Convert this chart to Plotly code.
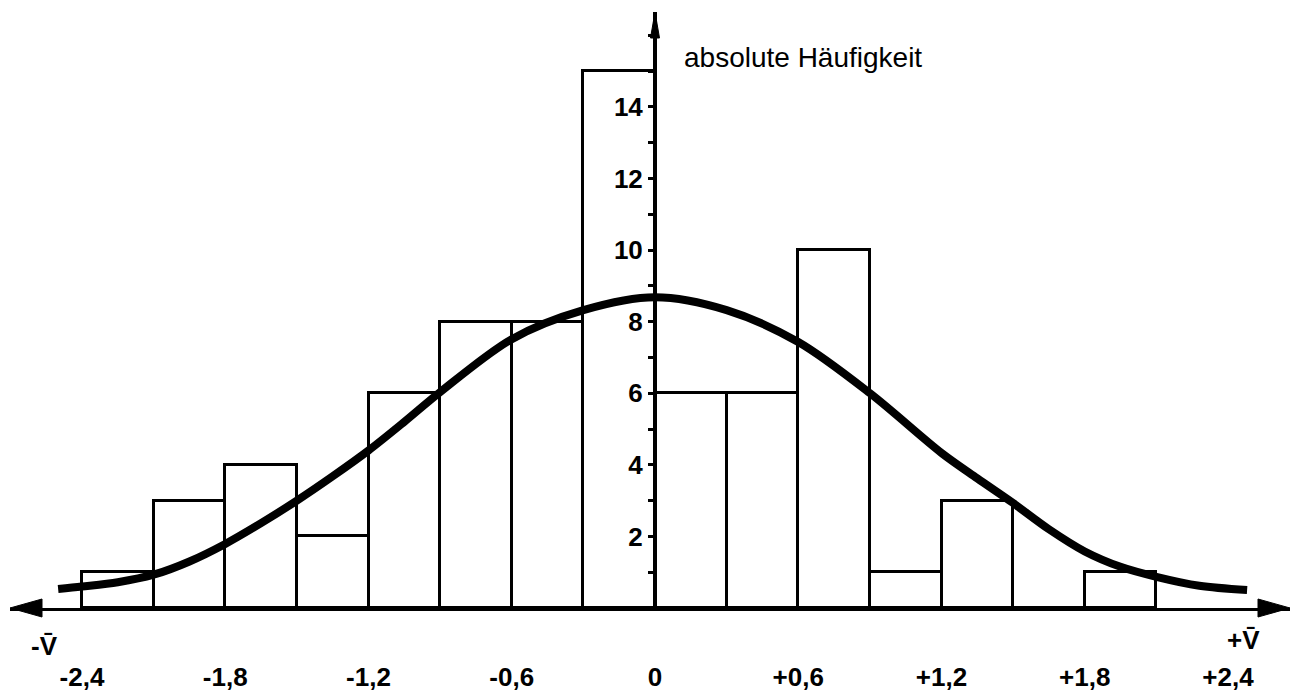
import plotly.graph_objects as go

# Histogram classes (bin width 0.3, from -2.4 to +2.1)
bin_centers = [-2.25, -1.95, -1.65, -1.35, -1.05, -0.75, -0.45, -0.15,
               0.15, 0.45, 0.75, 1.05, 1.35, 1.65, 1.95]
counts = [1, 3, 4, 2, 6, 8, 8, 15, 6, 6, 10, 1, 3, 0, 1]

# Fitted normal curve
curve_x = [-2.50, -2.40, -2.25, -2.10, -1.95, -1.80, -1.65, -1.50, -1.35, -1.20,
           -1.05, -0.90, -0.60, -0.30, 0.00, 0.30, 0.60, 0.90, 1.20, 1.35,
           1.50, 1.65, 1.80, 1.95, 2.10, 2.28, 2.48]
curve_y = [0.53, 0.60, 0.72, 0.93, 1.30, 1.79, 2.37, 3.00, 3.68, 4.40,
           5.20, 6.03, 7.51, 8.32, 8.68, 8.32, 7.43, 6.00, 4.33, 3.62,
           2.93, 2.20, 1.58, 1.15, 0.87, 0.62, 0.50]

# Axis tick labels
x_tickvals = [-2.4, -1.8, -1.2, -0.6, 0, 0.6, 1.2, 1.8, 2.4]
x_ticktext = ["-2,4", "-1,8", "-1,2", "-0,6", "0", "+0,6", "+1,2", "+1,8", "+2,4"]
y_tickvals = [2, 4, 6, 8, 10, 12, 14]
y_ticktext = ["2", "4", "6", "8", "10", "12", "14"]

W, H = 1296, 692
ML, MR, MT, MB = 10, 6, 12, 84
PW, PH = W - ML - MR, H - MT - MB
PX_PER_X = 238.75
PX_PER_Y = 35.8
X0_PX = 655
Y0_PX = H - MB
x_range = [-(X0_PX - ML) / PX_PER_X, (W - MR - X0_PX) / PX_PER_X]
y_range = [0, PH / PX_PER_Y]
yaxis_pos = (X0_PX - ML) / PW


def px_to_paper(px, py):
    return (px - ML) / PW, (Y0_PX - py) / PH


FONT_FAMILY = "Liberation Sans, Arial, DejaVu Sans"
TICKFONT = dict(family=FONT_FAMILY, size=26, color="black", weight="bold")

fig = go.Figure()
fig.add_trace(go.Bar(
    x=bin_centers, y=counts, width=0.3,
    marker=dict(color="white", line=dict(color="black", width=3)),
    showlegend=False,
))
fig.add_trace(go.Scatter(
    x=curve_x, y=curve_y, mode="lines",
    line=dict(color="black", width=8, shape="spline", smoothing=0.9),
    showlegend=False,
))

fig.update_layout(
    width=W, height=H,
    margin=dict(l=ML, r=MR, t=MT, b=MB, autoexpand=False),
    paper_bgcolor="white", plot_bgcolor="white",
    bargap=0,
    xaxis=dict(
        range=x_range, showgrid=False, zeroline=False, automargin=False,
        showline=True, linecolor="black", linewidth=3,
        tickvals=x_tickvals, ticktext=x_ticktext, ticks="",
        ticklabelstandoff=44, tickfont=TICKFONT,
    ),
    yaxis=dict(
        range=y_range, showgrid=False, zeroline=False, automargin=False,
        anchor="free", position=yaxis_pos,
        showline=True, linecolor="black", linewidth=4,
        tickvals=y_tickvals, ticktext=y_ticktext,
        ticks="outside", ticklen=5, tickwidth=3, tickcolor="black",
        minor=dict(dtick=1, ticks="outside", ticklen=5, tickwidth=3, tickcolor="black"),
        tickfont=TICKFONT,
    ),
    font=dict(family=FONT_FAMILY, color="black"),
)

# Axis arrowheads (pixel-sized, anchored at axis ends)
arrow_common = dict(type="path", xref="paper", yref="paper",
                    xsizemode="pixel", ysizemode="pixel",
                    fillcolor="black", line=dict(color="black", width=1))
fig.add_shape(**arrow_common, xanchor=1, yanchor=0, path="M0,0 L-32,9 L-32,-9 Z")
fig.add_shape(**arrow_common, xanchor=0, yanchor=0, path="M0,0 L32,9 L32,-9 Z")
fig.add_shape(**arrow_common, xanchor=yaxis_pos, yanchor=1, path="M0,0 L-4.5,-26 L4.5,-26 Z")

ax_, ay_ = px_to_paper(682, 57)
fig.add_annotation(x=ax_, y=ay_, xref="paper", yref="paper",
                   text="absolute Häufigkeit", showarrow=False,
                   xanchor="left", yanchor="middle",
                   font=dict(size=28, color="black", family=FONT_FAMILY))
mx, my = px_to_paper(44, 646)
fig.add_annotation(x=mx, y=my, xref="paper", yref="paper",
                   text="-V\u0304", showarrow=False, xanchor="center", yanchor="middle",
                   font=TICKFONT)
px_, py_ = px_to_paper(1243, 640)
fig.add_annotation(x=px_, y=py_, xref="paper", yref="paper",
                   text="+V\u0304", showarrow=False, xanchor="center", yanchor="middle",
                   font=TICKFONT)

fig.write_html("out.html")
